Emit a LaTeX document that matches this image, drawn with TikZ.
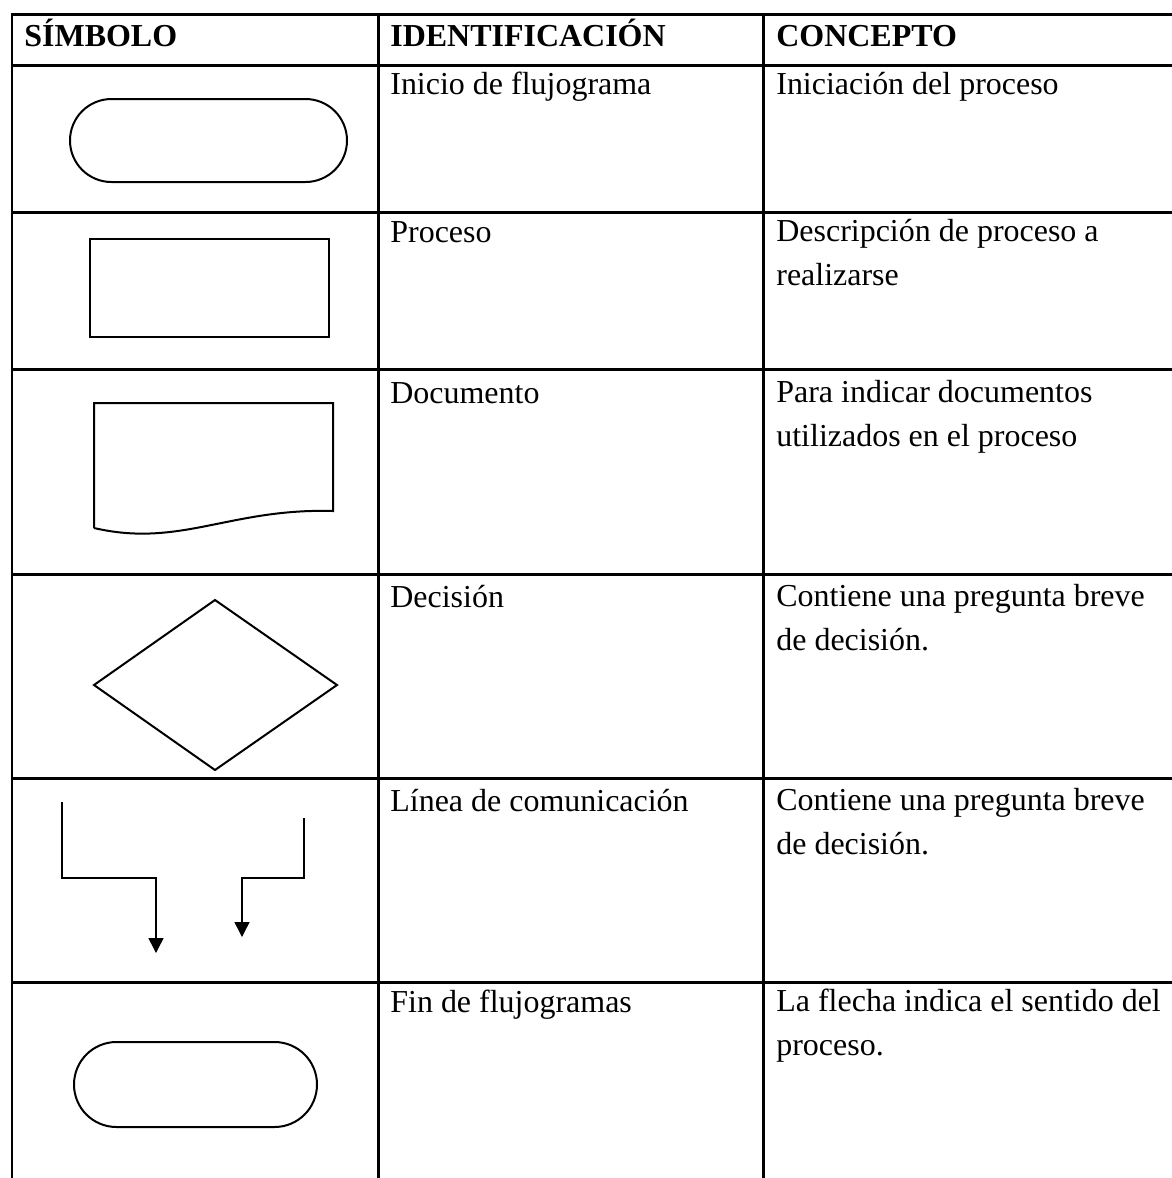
\documentclass[tikz,border=0pt]{standalone}
\usepackage{fontspec}
\setmainfont{Liberation Serif}
\usepackage{tikz}
\usetikzlibrary{arrows.meta}

\begin{document}
\begin{tikzpicture}[x=0.02cm,y=-0.02cm,
    txt/.style={anchor=base west,inner sep=0pt,align=left,
      font=\fontsize{18.2}{24.5}\selectfont},
    hdr/.style={txt,font=\fontsize{18.2}{24.5}\selectfont\bfseries},
    symb/.style={line width=0.04cm},
    flow/.style={line width=0.03cm,-{Triangle[width=0.3cm,length=0.3cm]}}]
        \useasboundingbox (0,0) rectangle (1172,1178);

        % table: 3 columns, header and 6 rows
        \draw[line width=0.06cm,line cap=rect] (12,14) -- (1172,14);
        \foreach \y in {65,212,369,574,778,982}
          \draw[line width=0.06cm] (12,\y) -- (1172,\y);
        \foreach \x in {12,378,763}
          \draw[line width=0.06cm] (\x,14) -- (\x,1178);

        % write header
        \node[hdr] (h1) at (24,46) {SÍMBOLO};
        \node[hdr] (h2) at (390,46) {IDENTIFICACIÓN};
        \node[hdr] (h3) at (776,46) {CONCEPTO};

        % write identification and concept of each row
        % (two-line texts sit on the baseline of their last line)
        \node[txt] (id1) at (390,94) {Inicio de flujograma};
        \node[txt] (c1) at (776,94) {Iniciación del proceso};
        \node[txt] (id2) at (390,242) {Proceso};
        \node[txt] (c2) at (776,285) {Descripción de proceso a\\realizarse};
        \node[txt] (id3) at (390,403) {Documento};
        \node[txt] (c3) at (776,446) {Para indicar documentos\\utilizados en el proceso};
        \node[txt] (id4) at (390,607) {Decisión};
        \node[txt] (c4) at (776,650) {Contiene una pregunta breve\\de decisión.};
        \node[txt] (id5) at (390,811) {Línea de comunicación};
        \node[txt] (c5) at (776,854) {Contiene una pregunta breve\\de decisión.};
        \node[txt] (id6) at (390,1012) {Fin de flujogramas};
        \node[txt] (c6) at (776,1055) {La flecha indica el sentido del\\proceso.};

        % start symbol
        \draw[symb,rounded corners=0.83cm] (70,99) rectangle (347,182);

        % process symbol
        \draw[symb] (90,239) rectangle (329,337);

        % document symbol
        \draw[symb] (94,528) -- (94,403) -- (333,403) -- (333,511)
          .. controls (230,508) and (180,548) .. (94,528);

        % decision symbol
        \draw[symb] (215,600) -- (337,685) -- (215,770) -- (94,685) -- cycle;

        % communication lines
        \coordinate (l1) at (62,802);
        \coordinate (l2) at (62,878);
        \coordinate (l3) at (156,878);
        \coordinate (l4) at (156,953);
        \coordinate (r1) at (304,818);
        \coordinate (r2) at (304,878);
        \coordinate (r3) at (242,878);
        \coordinate (r4) at (242,937);
        \draw[flow] (l1) -- (l2) -- (l3) -- (l4);
        \draw[flow] (r1) -- (r2) -- (r3) -- (r4);

        % end symbol
        \draw[symb,rounded corners=0.85cm] (74,1042) rectangle (317,1127);

\end{tikzpicture}
\end{document}
